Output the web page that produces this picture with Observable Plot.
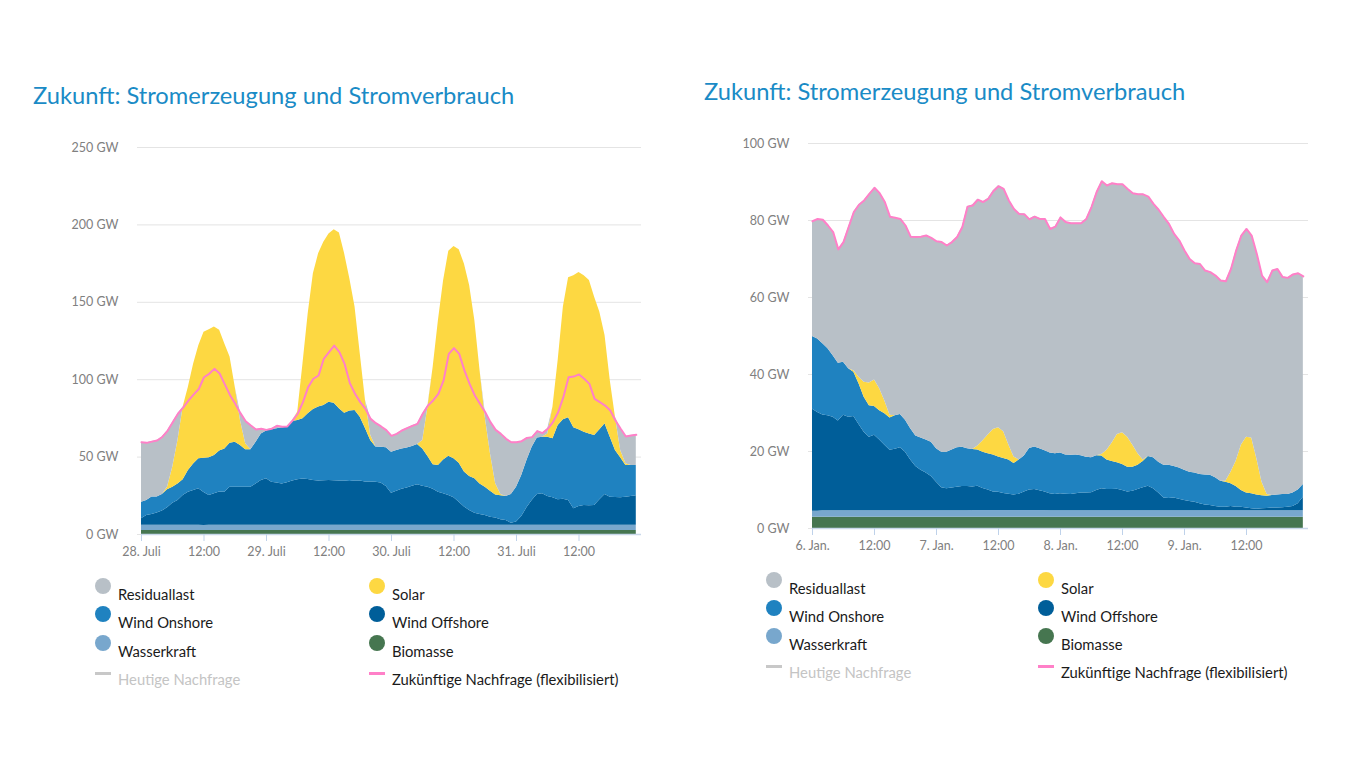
<!DOCTYPE html>
<html>
<head>
<meta charset="utf-8">
<script src="https://cdn.jsdelivr.net/npm/d3@7"></script>
<script src="https://cdn.jsdelivr.net/npm/@observablehq/plot@0.6"></script>
<style>
  html, body { margin: 0; padding: 0; background: #fff; }
  #page { position: relative; width: 1347px; height: 758px; overflow: hidden; font-family: Lato, "Open Sans", sans-serif; }
  .title { position: absolute; font-size: 23.7px; color: #1a8bc6; white-space: nowrap; font-weight: 400; }
  .chart { position: absolute; }
  .leg-dot { position: absolute; width: 16px; height: 16px; border-radius: 50%; }
  .leg-dash { position: absolute; width: 16px; height: 3px; }
  .leg-text { position: absolute; font-size: 14.8px; line-height: 20px; color: #1a1a1a; white-space: nowrap; }
</style>
</head>
<body>
<div id="page"></div>
<script>
// ---------- shared ----------
const titleText = "Zukunft: Stromerzeugung und Stromverbrauch";
const seriesOrder = ["Biomasse", "Wasserkraft", "Wind Offshore", "Wind Onshore", "Solar", "Residuallast"];
const seriesColors = ["#467650", "#78a7cd", "#005e99", "#1f82c0", "#fdd842", "#b8c0c7"];
const demandColor = "#ff80c8";
const todayColor = "#c8c8c8";
const legendCol1 = ["Residuallast", "Wind Onshore", "Wasserkraft", "Heutige Nachfrage"];
const legendCol2 = ["Solar", "Wind Offshore", "Biomasse", "Zukünftige Nachfrage (flexibilisiert)"];
const tickHours = [0, 12, 24, 36, 48, 60, 72, 84];

// ---------- left chart: 28.–31. Juli (hourly) ----------
const leftTickLabels = ["28. Juli", "12:00", "29. Juli", "12:00", "30. Juli", "12:00", "31. Juli", "12:00"];
const leftYTicks = [0, 50, 100, 150, 200, 250];
const leftDemand = [
  59.6,59.2,60,60.7,63,67,72.5,78,82,86.5,90.4,94,
  101.6,103.8,107,104,97,90,84.4,78.4,73.2,70.4,67.8,68.3,
  67.6,68.3,70.2,69.6,69.8,73.6,78,85.5,95.2,100.6,102.7,113.5,
  117.8,122,117.8,110.2,97.8,90.9,85.5,81.2,74.7,71.9,69.8,67.4,
  63.7,65,67.2,68.7,70.2,71.5,78,83.3,86.6,90.9,99.5,116.7,
  120.4,116.7,106,97.3,89.8,84.4,79,72.6,67.6,65,61.8,59.6,
  59.6,60.3,62.4,62.9,66.8,65.5,68.3,72.6,79,88.7,101.6,102,
  103.4,100.6,97.3,87.6,85.5,83.3,80.1,73.6,68.3,63.3,64,64.4];
const leftBiomasse = [
  2.6,2.6,2.6,2.6,2.6,2.6,2.6,2.6,2.6,2.6,2.6,2.6,
  2.6,2.6,2.6,2.6,2.6,2.6,2.6,2.6,2.6,2.6,2.6,2.6,
  2.6,2.6,2.6,2.6,2.6,2.6,2.6,2.6,2.6,2.6,2.6,2.6,
  2.6,2.6,2.6,2.6,2.6,2.6,2.6,2.6,2.6,2.6,2.6,2.6,
  2.6,2.6,2.6,2.6,2.6,2.6,2.6,2.6,2.6,2.6,2.6,2.6,
  2.6,2.6,2.6,2.6,2.6,2.6,2.6,2.6,2.6,2.6,2.6,2.6,
  2.6,2.6,2.6,2.6,2.6,2.6,2.6,2.6,2.6,2.6,2.6,2.6,
  2.6,2.6,2.6,2.6,2.6,2.6,2.6,2.6,2.6,2.6,2.6,2.6];
const leftWasserkraft = [
  3.3,3.3,3.4,3.4,3.4,3.3,3.3,3.3,3.3,3.3,3.3,3.3,
  3.2,3.3,3.4,3.4,3.3,3.3,3.3,3.3,3.3,3.3,3.3,3.3,
  3.3,3.3,3.3,3.3,3.3,3.3,3.4,3.4,3.3,3.3,3.3,3.3,
  3.3,3.3,3.3,3.3,3.3,3.3,3.3,3.4,3.4,3.4,3.3,3.3,
  3.3,3.3,3.3,3.3,3.3,3.3,3.3,3.3,3.3,3.3,3.3,3.3,
  3.3,3.3,3.3,3.3,3.3,3.3,3.3,3.3,3.4,3.4,3.4,3.3,
  3.3,3.3,3.3,3.3,3.3,3.3,3.3,3.3,3.3,3.3,3.3,3.3,
  3.3,3.3,3.3,3.3,3.3,3.3,3.3,3.3,3.3,3.3,3.3,3.3];
const leftOffshore = [
  4.2,6.4,7.0,7.9,9.2,11.3,14.3,16.1,19.3,21.4,22.5,23.6,
  21.4,19.3,20.4,21.4,21.4,24.7,24.7,24.7,24.7,24.7,26.8,29.0,
  30.1,27.9,27.3,26.8,27.5,28.6,29.4,29.8,29.6,29.0,28.6,28.8,
  29.0,28.8,28.6,28.6,28.3,28.6,28.6,27.9,27.9,27.7,27.3,25.1,
  20.8,22.1,23.4,24.2,25.3,26.2,25.3,24.7,23.4,21.4,20.4,19.3,
  17.8,15.0,11.8,9.6,7.9,7.0,6.4,5.3,4.7,3.6,3.1,1.4,
  2.1,5.7,11.3,16.1,19.9,20.4,18.6,17.8,16.5,16.9,16.1,10.7,
  12.2,12.8,12.6,12.8,16.5,19.9,18.2,18.0,17.8,18.2,18.6,19.1];
const leftOnshore = [
  10.8,9.7,11.2,10.3,10.7,11.7,10.4,10.7,10.1,14.0,17.2,19.4,
  22.0,24.3,24.7,26.5,28.0,28.4,29.0,26.9,24.1,24.1,26.9,30.1,
  30.8,34.0,35.1,36.2,35.9,38.5,38.3,39.0,42.5,45.8,47.8,48.6,
  50.6,50.1,46.7,43.9,45.5,45.6,41.3,34.5,26.9,22.8,23.2,25.0,
  26.5,26.3,26.0,25.7,25.6,26.0,24.1,19.8,15.7,17.3,21.9,25.4,
  25.2,25.2,22.6,22.0,22.2,19.8,18.3,16.8,14.8,15.5,15.5,18.5,
  22.6,26.5,30.6,34.4,36.6,36.6,38.4,38.1,48.0,51.3,53.4,52.3,
  49.5,47.4,46.5,45.3,45.2,45.7,38.8,30.4,25.8,20.5,20.1,19.6];
const leftSolar = [
  0,0,0,0,0,1.7,12.9,28.0,47.0,53.9,64.4,73.1,
  81.4,82.7,83.0,78.0,67.7,55.6,35.6,16.1,3.9,0,0,0,
  0,0,0,0,0,0,5.4,35.3,64.5,87.7,99.0,105.5,
  108.7,112.0,113.5,102.9,85.5,66.8,40.9,18.3,3.3,0,0,0,
  0,0,0,0,0,0,5.4,31.9,63.0,93.4,115.8,132.4,
  137.1,137.8,134.5,123.4,102.2,73.2,45.2,24.1,7.3,0.8,0,0,
  0,0,0,0,0,0,2.1,20.5,42.0,72.8,90.4,98.2,
  101.7,101.0,99.1,89.3,76.0,57.1,36.6,21.5,4.8,1.1,0,0];
const leftResidual = [
  38.7,37.2,35.9,36.6,37.2,36.4,29.0,17.3,0,0,0,0,
  0,0,0,0,0,0,0,4.8,14.6,15.7,8.2,3.3,
  0.8,0.5,1.9,0.7,0.5,0.6,0,0,0,0,0,0,
  0,0,0,0,0,0,0,0,10.7,15.5,13.4,11.4,
  10.5,10.7,11.9,12.9,13.4,13.4,17.3,1.0,0,0,0,0,
  0,0,0,0,0,0,3.2,20.5,34.9,39.2,37.3,33.8,
  29.0,22.2,14.6,6.5,4.4,2.6,3.3,0,0,0,0,0,
  0,0,0,0,0,0,0,0,14.0,17.6,19.4,19.8];

// ---------- right chart: 6.–9. Jan. (hourly) ----------
const rightTickLabels = ["6. Jan.", "12:00", "7. Jan.", "12:00", "8. Jan.", "12:00", "9. Jan.", "12:00"];
const rightYTicks = [0, 20, 40, 60, 80, 100];
const rightDemand = [
  79.8,80.4,80.2,78.7,77,72.5,74.4,78.3,82.2,84.1,85.2,86.9,
  88.5,87.1,84.8,81,80.7,80.4,78.7,75.8,75.7,75.8,76.1,75.5,
  74.6,74.4,73.5,74.4,75.7,78.3,83.6,83.9,85.4,84.8,85.6,87.6,
  88.9,88.2,85.2,83,81.7,81.6,80.3,81,80.4,80.4,77.8,78.4,
  80.8,79.6,79.3,79.3,79.3,80.4,83.5,87.4,90.2,89.1,89.7,89.4,
  89.4,88.2,87.1,86.8,86.8,86.2,84.3,82.8,80.9,79.1,76.5,74.8,
  72.2,70,68.9,68.7,67,66.6,65.7,64.4,64.2,67.4,72.2,76.1,
  77.8,76.1,71.3,65.7,64,67,67.4,65.3,65.1,66,66.3,65.5];
const rightBiomasse = [
  2.9,2.9,2.9,2.9,2.9,2.9,2.9,2.9,2.9,2.9,2.9,2.9,
  2.9,2.9,2.9,2.9,2.9,2.9,2.9,2.9,2.9,2.9,2.9,2.9,
  2.9,2.9,2.9,2.9,2.9,2.9,2.9,2.9,2.9,2.9,2.9,2.9,
  2.9,2.9,2.9,2.9,2.9,2.9,2.9,2.9,2.9,2.9,2.9,2.9,
  2.9,2.9,2.9,2.9,2.9,2.9,2.9,2.9,2.9,2.9,2.9,2.9,
  2.9,2.9,2.9,2.9,2.9,2.9,2.9,2.9,2.9,2.9,2.9,2.9,
  2.9,2.9,2.9,2.9,2.9,2.9,2.9,2.9,2.9,2.9,2.9,2.9,
  2.9,2.9,2.9,2.9,2.9,2.9,2.9,2.9,2.9,2.9,2.9,2.9];
const rightWasserkraft = [
  1.6,1.6,1.7,1.7,1.7,1.7,1.7,1.7,1.7,1.7,1.7,1.7,
  1.7,1.7,1.7,1.7,1.7,1.7,1.7,1.7,1.7,1.7,1.7,1.7,
  1.7,1.7,1.7,1.7,1.7,1.7,1.7,1.8,1.8,1.8,1.8,1.8,
  1.8,1.8,1.8,1.8,1.8,1.8,1.8,1.8,1.8,1.8,1.7,1.7,
  1.7,1.7,1.7,1.7,1.7,1.7,1.7,1.7,1.7,1.7,1.7,1.7,
  1.7,1.7,1.7,1.7,1.7,1.7,1.7,1.7,1.7,1.7,1.7,1.7,
  1.7,1.7,1.7,1.7,1.7,1.7,1.7,1.7,1.7,1.7,1.7,1.7,
  1.7,1.7,1.7,1.7,1.7,1.7,1.7,1.7,1.7,1.7,1.7,1.7];
const rightOffshore = [
  26.5,25.6,24.9,24.7,24.3,23.3,24.8,24.3,24.5,22.4,20.4,19.1,
  19.6,18.4,17.0,15.7,16.0,16.4,15.2,13.2,11.5,10.5,9.8,8.9,
  7.4,6.0,5.7,5.9,6.1,6.3,6.3,6.1,6.3,5.7,5.3,4.8,
  4.7,4.4,4.2,4.0,4.2,4.8,5.3,5.4,5.1,4.8,4.4,4.2,
  4.4,4.3,4.2,4.4,4.6,4.6,4.7,5.3,5.7,5.5,5.5,5.6,
  5.3,4.9,5.1,5.5,6.0,6.4,5.7,4.6,3.3,3.2,3.3,3.0,
  2.7,2.4,2.2,1.8,1.5,1.4,1.1,0.9,0.9,1.1,0.9,0.9,
  0.7,0.5,0.4,0.5,0.6,0.7,0.7,0.8,0.9,1.1,1.8,3.5];
const rightOnshore = [
  18.9,19.1,18.5,17.4,16.0,15.0,13.8,12.6,11.5,10.6,9.1,8.2,
  7.5,7.6,8.2,8.4,8.7,8.6,8.3,8.1,7.9,8.4,8.6,8.9,
  8.7,9.2,9.5,9.9,10.3,10.2,9.8,9.7,9.4,9.4,9.4,9.6,
  9.2,9.1,8.9,8.2,8.9,9.3,10.8,11.1,10.9,10.7,10.6,10.6,
  10.6,10.2,10.2,10.1,9.7,9.3,9.1,9.0,8.5,7.7,7.3,6.9,
  6.7,6.4,6.2,6.3,6.8,7.7,8.1,8.0,8.5,8.6,8.2,8.1,
  7.8,7.6,7.6,7.6,7.8,7.8,7.5,6.8,6.5,5.9,5.4,4.4,
  3.9,3.9,3.7,3.4,3.2,3.3,3.4,3.4,3.3,3.5,3.6,3.3];
const rightSolar = [
  0,0,0,0,0,0,0,0,0.4,1.7,3.9,5.9,
  6.9,5.7,3.3,0.7,0,0,0,0,0,0,0,0,
  0,0,0,0,0,0,0,0,1.0,3.0,4.9,6.6,
  7.6,6.9,3.9,1.7,0,0,0,0,0,0,0,0,
  0,0,0,0,0,0,0,0,0.4,2.5,4.8,7.3,
  8.3,7.8,5.7,3.0,0.4,0,0,0,0,0,0,0,
  0,0,0,0,0,0,0,0,0.3,3.0,6.6,11.7,
  14.5,14.5,9.4,3.5,0.4,0,0,0,0,0,0,0];
const rightResidual = [
  29.8,31.1,32.2,32.0,32.1,29.6,31.2,36.8,41.2,44.8,47.2,49.1,
  49.9,50.8,51.7,51.6,51.4,50.8,50.6,49.9,51.7,52.3,53.1,53.1,
  53.9,54.6,53.7,54.0,54.7,57.2,62.9,63.5,64.1,62.1,61.4,62.0,
  62.8,63.2,63.6,64.5,64.0,62.9,59.6,59.9,59.8,60.3,58.2,59.0,
  61.2,60.5,60.3,60.2,60.4,61.9,65.1,68.5,71.0,68.8,67.5,65.0,
  64.5,64.5,65.5,67.4,69.0,67.5,65.9,65.6,64.5,62.7,60.4,59.1,
  57.1,55.4,54.5,54.7,53.1,52.8,52.5,52.1,51.9,52.8,54.7,54.5,
  54.1,52.6,53.2,53.7,55.2,58.4,58.7,56.5,56.3,56.8,56.3,54.1];

// ---------- helpers ----------
function tidy(arrays) {
  return seriesOrder.flatMap((name, k) => arrays[k].map((v, h) => ({h, series: name, value: v})));
}

function makeChart(cfg) {
  const table = tidy(cfg.series);
  const line = cfg.demand.map((v, h) => ({h, v}));
  return Plot.plot({
    width: 660, height: 460,
    marginLeft: cfg.marginLeft, marginRight: cfg.marginRight,
    marginTop: cfg.marginTop, marginBottom: 460 - cfg.marginTop - cfg.plotHeight,
    style: {fontFamily: "Lato, 'Open Sans', sans-serif", fontSize: "12.5px", color: "#808080", background: "transparent", overflow: "visible"},
    x: {domain: [0, 96]},
    y: {domain: [0, cfg.yTicks[cfg.yTicks.length - 1]]},
    color: {domain: seriesOrder, range: seriesColors},
    marks: [
      Plot.ruleY(cfg.yTicks, {stroke: "#e4e4e4", strokeWidth: 1, insetLeft: -4}),
      Plot.areaY(table, {x: "h", y: "value", fill: "series", order: seriesOrder}),
      Plot.lineY(line, {x: "h", y: "v", stroke: demandColor, strokeWidth: 2}),
      Plot.ruleY([0], {stroke: "#c9d8ea", strokeWidth: 1.5}),
      Plot.axisY({ticks: cfg.yTicks, tickSize: 0, tickPadding: 23, tickFormat: d => `${d} GW`, label: null, fill: "#808080"}),
      Plot.axisX({ticks: tickHours, tickSize: 7, tickPadding: 6,
        tickFormat: d => cfg.tickLabels[tickHours.indexOf(d)], label: null,
        stroke: "#bfd2ea", fill: "#808080"})
    ]
  });
}

function addLegend(page, lg) {
  const cols = [
    {labels: legendCol1, kinds: ["dot", "dot", "dot", "dash"], colors: [seriesColors[5], seriesColors[3], seriesColors[1], todayColor], x: lg.x1},
    {labels: legendCol2, kinds: ["dot", "dot", "dot", "dash"], colors: [seriesColors[4], seriesColors[2], seriesColors[0], demandColor], x: lg.x2}
  ];
  cols.forEach(col => {
    col.labels.forEach((label, i) => {
      const cy = lg.y0 + i * lg.dy;
      const m = document.createElement("div");
      if (col.kinds[i] === "dot") {
        m.className = "leg-dot";
        m.style.left = (col.x - 15 - 8) + "px";
        m.style.top = (cy - 8 - 8) + "px";
      } else {
        m.className = "leg-dash";
        m.style.left = (col.x - 23) + "px";
        m.style.top = (cy - 7) + "px";
      }
      m.style.background = col.colors[i];
      page.appendChild(m);
      const t = document.createElement("div");
      t.className = "leg-text";
      t.textContent = label;
      t.style.left = col.x + "px";
      t.style.top = (cy - 10) + "px";
      if (label === "Heutige Nachfrage") t.style.color = "#c4c4c4";
      page.appendChild(t);
    });
  });
}

const page = document.getElementById("page");

// left
const t1 = document.createElement("div");
t1.className = "title"; t1.textContent = titleText;
t1.style.left = "33px"; t1.style.top = "81px";
page.appendChild(t1);
const c1 = makeChart({
  series: [leftBiomasse, leftWasserkraft, leftOffshore, leftOnshore, leftSolar, leftResidual],
  demand: leftDemand, yTicks: leftYTicks, tickLabels: leftTickLabels,
  marginLeft: 141, marginRight: 19, marginTop: 27, plotHeight: 387
});
c1.classList.add("chart"); c1.style.left = "0px"; c1.style.top = "120px";
page.appendChild(c1);
addLegend(page, {x1: 118, x2: 392, y0: 594, dy: 28.3});

// right
const t2 = document.createElement("div");
t2.className = "title"; t2.textContent = titleText;
t2.style.left = "704px"; t2.style.top = "77px";
page.appendChild(t2);
const c2 = makeChart({
  series: [rightBiomasse, rightWasserkraft, rightOffshore, rightOnshore, rightSolar, rightResidual],
  demand: rightDemand, yTicks: rightYTicks, tickLabels: rightTickLabels,
  marginLeft: 142, marginRight: 22, marginTop: 28, plotHeight: 385
});
c2.classList.add("chart"); c2.style.left = "670px"; c2.style.top = "115px";
page.appendChild(c2);
addLegend(page, {x1: 789, x2: 1061, y0: 588, dy: 28});
</script>
</body>
</html>
